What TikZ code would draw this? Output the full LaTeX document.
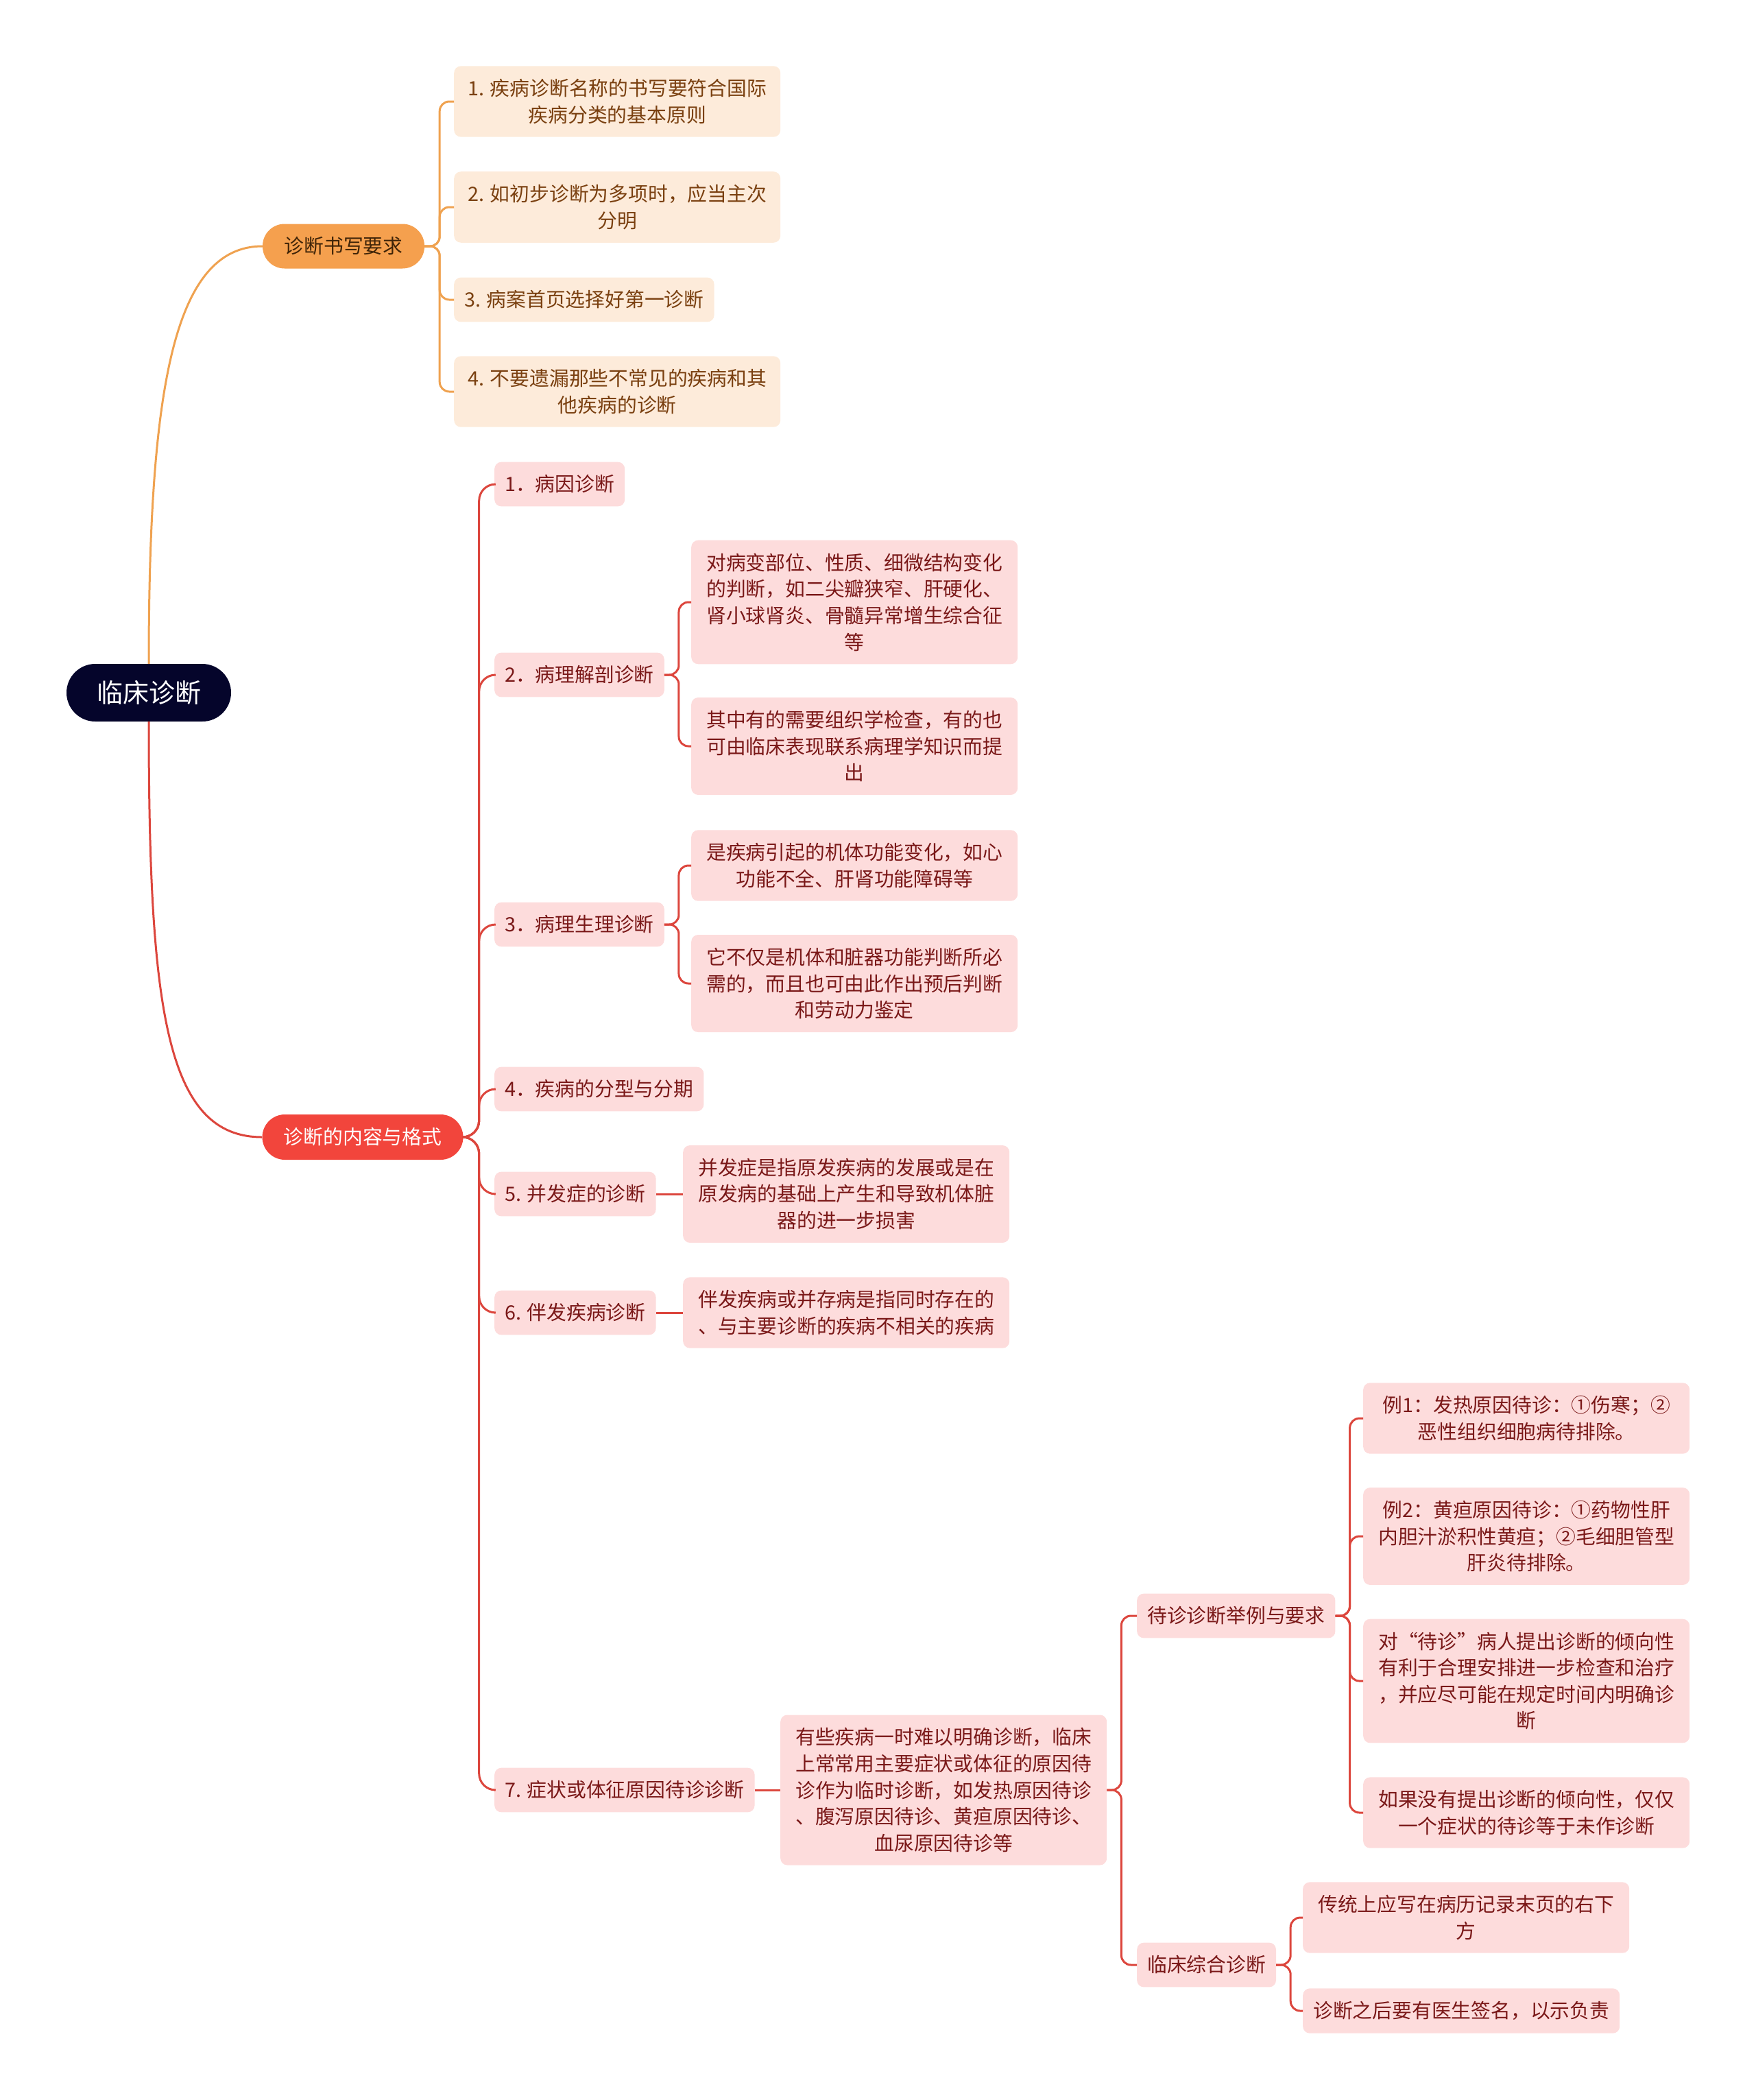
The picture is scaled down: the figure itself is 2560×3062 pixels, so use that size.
\documentclass[tikz,border=0pt]{standalone}
\usepackage{fontspec}
\setmainfont{Noto Sans CJK SC}
\definecolor{navy}{HTML}{05052B}
\definecolor{orangefill}{HTML}{F5A04E}
\definecolor{orangeink}{HTML}{3F2408}
\definecolor{peach}{HTML}{FDEBDA}
\definecolor{brownink}{HTML}{7A4010}
\definecolor{orangeline}{HTML}{EFA250}
\definecolor{redfill}{HTML}{F2453C}
\definecolor{pinkfill}{HTML}{FDDCDC}
\definecolor{wineink}{HTML}{7A1818}
\definecolor{redline}{HTML}{DC463D}

\begin{document}
\begin{tikzpicture}[x=1pt,y=-1pt,
   base/.style={inner xsep=15pt,inner ysep=19pt,align=center,font=\fontsize{28.8}{38.6}\selectfont},
   rootnode/.style={fill=navy,text=white,rounded corners=42pt,minimum width=240pt,minimum height=84pt,font=\fontsize{38}{46}\selectfont},
   obranch/.style={base,fill=orangefill,text=orangeink,rounded corners=32pt,minimum width=236pt,minimum height=65pt,inner ysep=0pt},
   rbranch/.style={base,fill=redfill,text=white,rounded corners=33pt,minimum width=293pt,minimum height=66pt,inner ysep=0pt},
   oleaf/.style={base,fill=peach,text=brownink,rounded corners=10pt,anchor=west,minimum height=64pt},
   rleaf/.style={base,fill=pinkfill,text=wineink,rounded corners=10pt,anchor=west,minimum height=64pt},
   wide/.style={minimum width=476pt},
   olink/.style={draw=orangeline,line width=3pt,rounded corners=14pt},
   rlink/.style={draw=redline,line width=3pt,rounded corners=14pt}]
\useasboundingbox (0,0) rectangle (2560,3062);
% root and main branches
\node[rootnode] (root) at (217,1010) {临床诊断};
\node[obranch] (b1) at (501,359) {诊断书写要求};
\node[rbranch] (b2) at (529,1658) {诊断的内容与格式};
% orange branch leaves
\node[oleaf,wide] (c1) at (662,148) {1. 疾病诊断名称的书写要符合国际\\疾病分类的基本原则};
\node[oleaf,wide] (c2) at (662,302) {2. 如初步诊断为多项时，应当主次\\分明};
\node[oleaf] (c3) at (662,437) {3. 病案首页选择好第一诊断};
\node[oleaf,wide] (c4) at (662,571) {4. 不要遗漏那些不常见的疾病和其\\他疾病的诊断};
% red branch items
\node[rleaf] (r1) at (721,706) {1．病因诊断};
\node[rleaf] (r2) at (721,984) {2．病理解剖诊断};
\node[rleaf,wide] (r2a) at (1008,878) {对病变部位、性质、细微结构变化\\的判断，如二尖瓣狭窄、肝硬化、\\肾小球肾炎、骨髓异常增生综合征\\等};
\node[rleaf,wide] (r2b) at (1008,1088) {其中有的需要组织学检查，有的也\\可由临床表现联系病理学知识而提\\出};
\node[rleaf] (r3) at (721,1348) {3．病理生理诊断};
\node[rleaf,wide] (r3a) at (1008,1262) {是疾病引起的机体功能变化，如心\\功能不全、肝肾功能障碍等};
\node[rleaf,wide] (r3b) at (1008,1434) {它不仅是机体和脏器功能判断所必\\需的，而且也可由此作出预后判断\\和劳动力鉴定};
\node[rleaf] (r4) at (721,1588) {4．疾病的分型与分期};
\node[rleaf] (r5) at (721,1741) {5. 并发症的诊断};
\node[rleaf,wide] (r5a) at (996,1741) {并发症是指原发疾病的发展或是在\\原发病的基础上产生和导致机体脏\\器的进一步损害};
\node[rleaf] (r6) at (721,1914) {6. 伴发疾病诊断};
\node[rleaf,wide] (r6a) at (996,1914) {伴发疾病或并存病是指同时存在的\\、与主要诊断的疾病不相关的疾病};
\node[rleaf] (r7) at (721,2610) {7. 症状或体征原因待诊诊断};
\node[rleaf,wide] (r7a) at (1138,2610) {有些疾病一时难以明确诊断，临床\\上常常用主要症状或体征的原因待\\诊作为临时诊断，如发热原因待诊\\、腹泻原因待诊、黄疸原因待诊、\\血尿原因待诊等};
% pending diagnosis, deeper levels
\node[rleaf] (s1) at (1658,2356) {待诊诊断举例与要求};
\node[rleaf,wide] (s1a) at (1988,2068) {例1：发热原因待诊：①伤寒；②\\恶性组织细胞病待排除。};
\node[rleaf,wide] (s1b) at (1988,2240) {例2：黄疸原因待诊：①药物性肝\\内胆汁淤积性黄疸；②毛细胆管型\\肝炎待排除。};
\node[rleaf,wide] (s1c) at (1988,2451) {对“待诊”病人提出诊断的倾向性\\有利于合理安排进一步检查和治疗\\，并应尽可能在规定时间内明确诊\\断};
\node[rleaf,wide] (s1d) at (1988,2643) {如果没有提出诊断的倾向性，仅仅\\一个症状的待诊等于未作诊断};
\node[rleaf] (s2) at (1658,2865) {临床综合诊断};
\node[rleaf,wide] (s2a) at (1900,2796) {传统上应写在病历记录末页的右下\\方};
\node[rleaf] (s2b) at (1900,2932) {诊断之后要有医生签名，以示负责};
% connectors
\draw[olink] (root.north) .. controls +(0,-400) and +(-130,0) .. (b1.west);
\draw[rlink] (root.south) .. controls +(0,420) and +(-140,0) .. (b2.west);
\foreach \c in {c1,c2,c3,c4}
  \draw[olink] (b1.east) -- ++(22,0) |- (\c.west);
\foreach \c in {r1,r2,r3,r4,r5,r6,r7}
  \draw[rlink,rounded corners=24pt] (b2.east) -- ++(23,0) |- (\c.west);
\foreach \c in {r2a,r2b} \draw[rlink] (r2.east) -- ++(21,0) |- (\c.west);
\foreach \c in {r3a,r3b} \draw[rlink] (r3.east) -- ++(21,0) |- (\c.west);
\draw[rlink] (r5.east) -- (r5a.west);
\draw[rlink] (r6.east) -- (r6a.west);
\draw[rlink] (r7.east) -- (r7a.west);
\foreach \c in {s1,s2} \draw[rlink] (r7a.east) -- ++(21,0) |- (\c.west);
\foreach \c in {s1a,s1b,s1c,s1d} \draw[rlink] (s1.east) -- ++(21,0) |- (\c.west);
\foreach \c in {s2a,s2b} \draw[rlink] (s2.east) -- ++(21,0) |- (\c.west);
\end{tikzpicture}
\end{document}
